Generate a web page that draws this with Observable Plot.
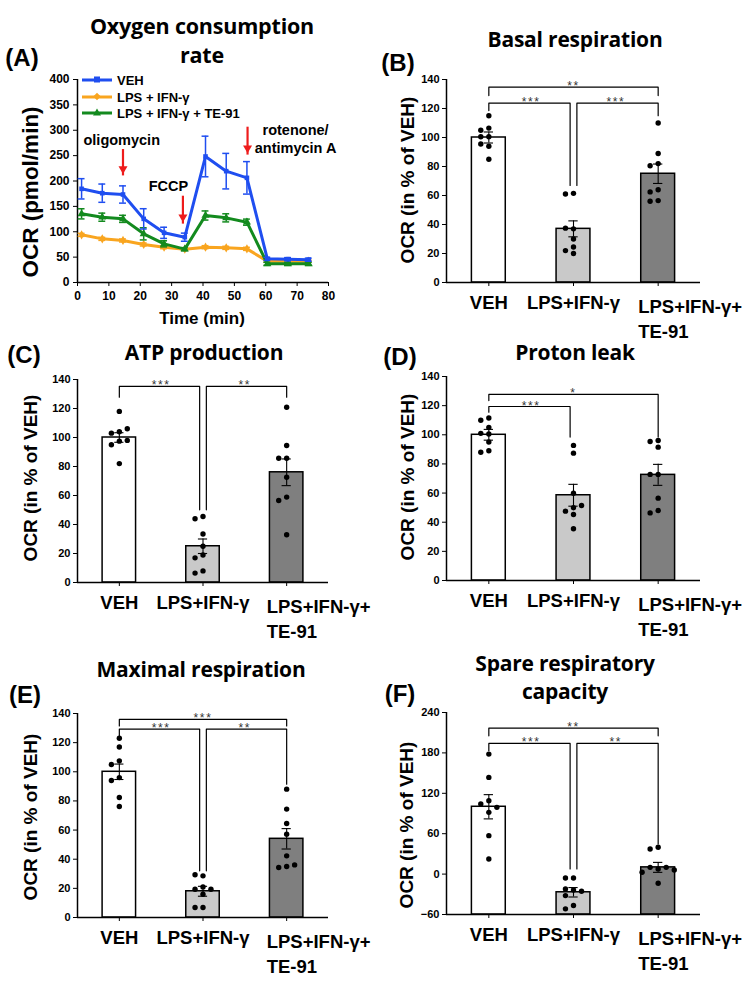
<!DOCTYPE html>
<html><head><meta charset="utf-8">
<script src="https://cdn.jsdelivr.net/npm/d3@7"></script>
<script src="https://cdn.jsdelivr.net/npm/@observablehq/plot@0.6"></script>
<style>
body{margin:0;background:#fff;}
#fig{position:relative;width:756px;height:982px;overflow:hidden;font-family:"Liberation Sans",Arial,sans-serif;color:#000;}
.abs{position:absolute;white-space:pre;transform:translate(-50%,-50%);line-height:1;text-align:center;}
.title{font-family:"Open Sans",Lato,sans-serif;font-weight:700;font-size:21px;letter-spacing:-0.2px;}
.plabel{font-weight:700;font-size:24px;}
.ylab{font-weight:700;font-size:19px;transform:translate(-50%,-50%) rotate(-90deg);}
.panel{position:absolute;}
.panel svg{overflow:visible;}
.leg{position:absolute;display:flex;align-items:center;font-weight:700;font-size:13px;white-space:nowrap;transform:translateY(-50%);}
.sw{position:relative;width:30px;height:3px;margin-right:5px;}
</style></head>
<body><div id="fig"></div>
<script>
// ---------- (A) Oxygen consumption rate ----------
const timeMin = [1.3, 7.9, 14.5, 21.1, 27.6, 34.2, 40.8, 47.4, 54.0, 60.5, 67.1, 73.7];
const ocrVEH = [184.6, 176, 173.4, 125.4, 97.9, 89.3, 248.3, 219.4, 206.2, 46.6, 46, 45];
const semVEH = [20, 18, 17, 20, 11, 8, 40, 35, 32, 3, 3, 3];
const ocrLPS = [93.9, 86, 82.8, 74.9, 69.6, 65.7, 69.6, 68.3, 66.3, 42, 42, 42];
const semLPS = [3, 3, 3, 3, 3, 2, 3, 3, 3, 2, 2, 2];
const ocrTE = [135.3, 128.7, 125.4, 95.9, 76.2, 65.7, 132, 127.4, 118.9, 36.8, 36.8, 36.8];
const semTE = [10, 8, 7, 12, 6, 3, 9, 8, 6, 3, 3, 3];
const seriesNames = ["VEH", "LPS + IFN-γ", "LPS + IFN-γ + TE-91"];
const xTicksA = [0, 10, 20, 30, 40, 50, 60, 70, 80];
const yTicksA = [0, 50, 100, 150, 200, 250, 300, 350, 400];

// injections (annotation arrows, in data units)
const injLabels = ["oligomycin", "FCCP", "rotenone/\nantimycin A"];
const injTime = [14.5, 33.6, 54.2];
const injArrowFrom = [263, 171, 307];
const injArrowTo = [211, 116, 252];
const injLabelTime = [14.1, 29, 69.5];
const injLabelOCR = [283, 191, 285];

// ---------- bar panels ----------
const groups = ["VEH", "LPS+IFN-γ", "LPS+IFN-γ+\nTE-91"];
const ticks140 = [0, 20, 40, 60, 80, 100, 120, 140];
const ticksSpare = [-60, 0, 60, 120, 180, 240];

// (B) Basal respiration
const basalMean = [100, 37, 75];
const basalSem = [3.8, 5.5, 6.7];
const basalVEH = [115, 106.5, 105, 100.5, 100.5, 94, 95.5, 85];
const basalLPS = [61.5, 61, 37, 37.5, 30, 24.5, 22, 20];
const basalTE = [110, 89, 82, 80.5, 64, 62.5, 56.5, 56];
const basalSig = [[0, 2, 134.7, 128.9, 128.9, "**"], [0, 1, 123.7, 118.6, 66.9, "***"], [1, 2, 123.7, 66.9, 115, "***"]];

// (C) ATP production
const atpMean = [100, 25, 76];
const atpSem = [3.3, 5, 9.2];
const atpVEH = [118, 104, 103, 106, 97.5, 95, 98, 82];
const atpLPS = [45.5, 44, 33.5, 25, 19, 17, 8, 6.5];
const atpTE = [120.9, 94.5, 85.7, 85.7, 72.6, 58.9, 56.6, 32.9];
const atpSig = [[0, 1, 135.2, 127.8, 50.1, "***"], [1, 2, 135.2, 50.1, 127.8, "**"]];

// (D) Proton leak
const protonMean = [100, 58.5, 72.5];
const protonSem = [3.7, 7.5, 7.2];
const protonVEH = [111.5, 110, 105, 101, 100.5, 95, 89, 88];
const protonLPS = [92.7, 87.4, 59.9, 49.9, 47.6, 51.5, 45.3, 35.5];
const protonTE = [91.5, 95.4, 96.1, 72.8, 72.8, 56.5, 48, 46.4];
const protonSig = [[0, 2, 127.7, 123.5, 98.4, "*"], [0, 1, 119.4, 115.5, 98.4, "***"]];

// (E) Maximal respiration
const maxMean = [100, 18, 54];
const maxSem = [5.3, 3.4, 7];
const maxVEH = [123, 117, 107.5, 105, 96, 94, 82.4, 76.2];
const maxLPS = [28.6, 29.3, 21, 19.4, 19.4, 16, 6.9, 6.9];
const maxTE = [88.1, 74.4, 64.5, 57.2, 42.3, 35, 34.3, 36.1];
const maxSig = [[0, 2, 135.9, 131.5, 131.5, "***"], [0, 1, 129.3, 124.7, 32, "***"], [1, 2, 129.3, 32, 91.5, "**"]];

// (F) Spare respiratory capacity
const spareMean = [100, -27, 10];
const spareSem = [18, 7, 7.4];
const spareVEH = [178.2, 143.6, 109, 91.7, 104, 99.1, 57.1, 22.5];
const spareLPS = [-5.7, -5.7, -23.5, -22, -25.4, -31.9, -46.7, -51.6];
const spareTE = [39.8, 37.3, 7.7, 10, 10, 2.7, 6, -13.6];
const spareSig = [[0, 2, 216.8, 205.4, 205.4, "**"], [0, 1, 194, 183.2, 7.7, "***"], [1, 2, 194, 7.7, 44.7, "**"]];

// ---------- styles ----------
const BLUE = "#1f4ef0", ORANGE = "#f9a51f", GREEN = "#138a1e", RED = "#ee1c1c";
const barFill = ["#ffffff", "#c9c9c9", "#7f7f7f"];
const FONT = "Liberation Sans, Arial, sans-serif";

const fig = document.getElementById("fig");
function put(node, left, top, w) {
  const d = document.createElement("div");
  d.className = "panel";
  d.style.left = left + "px"; d.style.top = top + "px"; d.style.width = w + "px";
  d.appendChild(node); fig.appendChild(d);
  // widen the spacing of significance stars
  d3.select(node).selectAll("text").filter(function () { return /^\*+$/.test(this.textContent); })
    .style("letter-spacing", "1.6px");
}
function txt(text, x, y, cls, extra) {
  const d = document.createElement("div");
  d.className = "abs " + cls;
  d.style.left = x + "px"; d.style.top = y + "px";
  if (extra) Object.assign(d.style, extra);
  d.textContent = text; fig.appendChild(d);
}

// ---------- panel A ----------
(function () {
  const defs = [
    {vals: ocrLPS, sem: semLPS, color: ORANGE, symbol: "diamond", r: 2.8},
    {vals: ocrTE, sem: semTE, color: GREEN, symbol: "triangle", r: 3},
    {vals: ocrVEH, sem: semVEH, color: BLUE, symbol: "square", r: 2.6}
  ];
  const marks = [];
  for (const s of defs) {
    const rows = timeMin.map((t, i) => ({t, v: s.vals[i], e: s.sem[i]}));
    marks.push(
      Plot.ruleX(rows, {x: "t", y1: d => d.v - d.e, y2: d => d.v + d.e, stroke: s.color, strokeWidth: 1.5}),
      Plot.ruleY(rows, {y: d => d.v + d.e, x1: d => d.t - 1.1, x2: d => d.t + 1.1, stroke: s.color, strokeWidth: 1.5}),
      Plot.ruleY(rows, {y: d => d.v - d.e, x1: d => d.t - 1.1, x2: d => d.t + 1.1, stroke: s.color, strokeWidth: 1.5}),
      Plot.line(rows, {x: "t", y: "v", stroke: s.color, strokeWidth: 3}),
      Plot.dot(rows, {x: "t", y: "v", symbol: s.symbol, r: s.r, fill: s.color})
    );
  }
  const inj = injLabels.map((label, i) => ({label, t: injTime[i], from: injArrowFrom[i], to: injArrowTo[i], lt: injLabelTime[i], lv: injLabelOCR[i]}));
  const svg = Plot.plot({
    width: 378, height: 330, marginLeft: 77, marginRight: 50, marginTop: 79, marginBottom: 48,
    x: {domain: [0, 80]}, y: {domain: [0, 400]},
    style: {fontFamily: FONT, overflow: "visible", background: "transparent", color: "#000"},
    marks: [
      Plot.axisY({ticks: yTicksA, tickSize: 4, tickPadding: 4, fontSize: 12, fontWeight: "bold", label: null}),
      Plot.axisX({ticks: xTicksA, tickSize: 4, tickPadding: 5, fontSize: 12, fontWeight: "bold", label: null}),
      Plot.ruleX([0], {y1: 0, y2: 400, strokeWidth: 1.5}),
      Plot.ruleY([0], {x1: 0, x2: 80, strokeWidth: 1.5}),
      ...marks,
      Plot.link(inj, {x1: "t", x2: "t", y1: "from", y2: "to", stroke: RED, strokeWidth: 2.2}),
      Plot.dot(inj, {x: "t", y: "to", symbol: "triangle2", r: 4.3, fill: RED, rotate: 180, dy: -6.5}),
      Plot.text(inj, {x: "lt", y: "lv", text: "label", fontSize: 14.5, fontWeight: "bold", lineHeight: 1.25, fill: "#000"})
    ]
  });
  put(svg, 0, 0, 378);
  // legend
  const legColors = [BLUE, ORANGE, GREEN];
  const legY = [80, 97, 113];
  seriesNames.forEach((name, i) => {
    const row = document.createElement("div");
    row.className = "leg";
    row.style.left = "82px"; row.style.top = legY[i] + "px";
    const sw = document.createElement("div");
    sw.className = "sw"; sw.style.background = legColors[i];
    const mk = document.createElement("div");
    mk.style.position = "absolute"; mk.style.left = "12px"; mk.style.top = "-2px";
    mk.style.width = "6px"; mk.style.height = "6px"; mk.style.background = legColors[i];
    if (i === 1) mk.style.transform = "rotate(45deg) scale(0.9)";
    if (i === 2) { mk.style.background = "none"; mk.style.width = "0"; mk.style.height = "0"; mk.style.top = "-3px"; mk.style.left = "11px";
      mk.style.borderLeft = "4px solid transparent"; mk.style.borderRight = "4px solid transparent"; mk.style.borderBottom = "7px solid " + GREEN; }
    sw.appendChild(mk);
    const t = document.createElement("span"); t.textContent = name;
    row.appendChild(sw); row.appendChild(t); fig.appendChild(row);
  });
})();

// ---------- bar panel factory ----------
function swarm(ptsByGroup, pxPerUnit) {
  const out = [];
  ptsByGroup.forEach((vals, gi) => {
    const placed = [];
    vals.forEach(v => {
      for (const o of [0, -1, 1, -2, 2]) {
        if (placed.every(p => p.o !== o || Math.abs(p.v - v) * pxPerUnit >= 6.2)) {
          placed.push({v, o}); out.push({x: gi + o * 0.095, y: v}); break;
        }
      }
    });
  });
  return out;
}
function barPanel(cfg) {
  const {mean, sem, pts, sig, yDomain, yTicks, width, height, mt, mb, ml, mr} = cfg;
  const n = groups.length;
  const xDom = [-0.5, n - 0.5];
  const bars = groups.map((g, i) => ({i, m: mean[i], e: sem[i]}));
  const pxPerUnit = (height - mt - mb) / (yDomain[1] - yDomain[0]);
  const dots = swarm(pts, pxPerUnit);
  const GAP = 0.04;
  const brLines = [], brText = [];
  sig.forEach(([a, b, level, dropA, dropB, label], k) => {
    const xa = a + (a === 1 ? GAP : 0);
    const xb = b - (b === 1 ? GAP : 0);
    brLines.push({k, x: xa, y: dropA}, {k, x: xa, y: level}, {k, x: xb, y: level}, {k, x: xb, y: dropB});
    brText.push({x: (a + b) / 2, y: level, label});
  });
  const idx = groups.map((g, i) => i);
  return Plot.plot({
    width, height, marginTop: mt, marginBottom: mb, marginLeft: ml, marginRight: mr,
    x: {domain: xDom}, y: {domain: yDomain}, color: {type: "identity"},
    style: {fontFamily: FONT, overflow: "visible", background: "transparent", color: "#000"},
    marks: [
      Plot.axisY({ticks: yTicks, tickSize: 4, tickPadding: 3, fontSize: 11, fontWeight: "bold", label: null}),
      Plot.axisX({ticks: idx, tickSize: 4, tickFormat: () => "", label: null}),
      Plot.rectY(bars, {x1: d => d.i - 0.2, x2: d => d.i + 0.2, y1: yDomain[0], y2: "m", fill: d => barFill[d.i], stroke: "#000", strokeWidth: 1.5}),
      Plot.ruleX([xDom[0]], {y1: yDomain[0], y2: yDomain[1], strokeWidth: 1.5}),
      Plot.ruleY([yDomain[0]], {x1: xDom[0], x2: xDom[1], strokeWidth: 1.5}),
      Plot.dot(dots, {x: "x", y: "y", r: 2.7, fill: "#000", stroke: null}),
      Plot.ruleX(bars, {x: "i", y1: d => d.m - d.e, y2: d => d.m + d.e, stroke: "#000", strokeWidth: 1.1}),
      Plot.ruleY(bars, {y: d => d.m + d.e, x1: d => d.i - 0.055, x2: d => d.i + 0.055, stroke: "#000", strokeWidth: 1.1}),
      Plot.ruleY(bars, {y: d => d.m - d.e, x1: d => d.i - 0.055, x2: d => d.i + 0.055, stroke: "#000", strokeWidth: 1.1}),
      Plot.line(brLines, {x: "x", y: "y", z: "k", stroke: "#000", strokeWidth: 1.2}),
      Plot.text(brText, {x: "x", y: "y", text: "label", lineAnchor: "bottom", dy: 3, fontSize: 12, fill: "#333"}),
      Plot.text(idx.slice(0, 2), {x: d => d, y: yDomain[0], text: d => groups[d], lineAnchor: "top", dy: 13.5, fontSize: 18.5, fontWeight: "bold", fill: "#000"}),
      Plot.text(idx.slice(2), {x: d => d, y: yDomain[0], text: d => groups[d], lineAnchor: "top", textAnchor: "start", dx: -20, dy: 13.5, lineHeight: 1.32, fontSize: 18.5, fontWeight: "bold", fill: "#000"})
    ]
  });
}

const L = {ml: 77, mr: 50}, R = {ml: 68, mr: 56};
put(barPanel({mean: basalMean, sem: basalSem, pts: [basalVEH, basalLPS, basalTE], sig: basalSig, yDomain: [0, 140], yTicks: ticks140, width: 378, height: 330, mt: 79, mb: 48, ...R}), 378, 0, 378);
put(barPanel({mean: atpMean, sem: atpSem, pts: [atpVEH, atpLPS, atpTE], sig: atpSig, yDomain: [0, 140], yTicks: ticks140, width: 378, height: 310, mt: 49, mb: 58, ...L}), 0, 330, 378);
put(barPanel({mean: protonMean, sem: protonSem, pts: [protonVEH, protonLPS, protonTE], sig: protonSig, yDomain: [0, 140], yTicks: ticks140, width: 378, height: 310, mt: 46, mb: 60, ...R}), 378, 330, 378);
put(barPanel({mean: maxMean, sem: maxSem, pts: [maxVEH, maxLPS, maxTE], sig: maxSig, yDomain: [0, 140], yTicks: ticks140, width: 378, height: 342, mt: 73, mb: 65, ...L}), 0, 640, 378);
put(barPanel({mean: spareMean, sem: spareSem, pts: [spareVEH, spareLPS, spareTE], sig: spareSig, yDomain: [-60, 240], yTicks: ticksSpare, width: 378, height: 342, mt: 72, mb: 68, ...R}), 378, 640, 378);

// ---------- titles and labels ----------
txt("Oxygen consumption\nrate", 202, 40, "title", {fontSize: "21.5px", lineHeight: "29px"});
txt("(A)", 22, 58, "plabel");
txt("OCR (pmol/min)", 31, 192, "ylab", {fontSize: "22.5px"});
txt("Time (min)", 202, 318, "", {fontWeight: "700", fontSize: "17px"});

txt("Basal respiration", 575, 39, "title");
txt("(B)", 398, 63, "plabel");
txt("OCR (in % of VEH)", 407, 180, "ylab");

txt("ATP production", 204, 352, "title");
txt("(C)", 24, 355, "plabel");
txt("OCR (in % of VEH)", 30, 478, "ylab");

txt("Proton leak", 575, 352, "title");
txt("(D)", 400, 357, "plabel");
txt("OCR (in % of VEH)", 407, 477, "ylab");

txt("Maximal respiration", 201, 669, "title");
txt("(E)", 25, 695, "plabel");
txt("OCR (in % of VEH)", 30, 817, "ylab");

txt("Spare respiratory\ncapacity", 565, 677, "title", {lineHeight: "28px"});
txt("(F)", 400, 694, "plabel");
txt("OCR (in % of VEH)", 406, 825, "ylab");
</script>
</body></html>
